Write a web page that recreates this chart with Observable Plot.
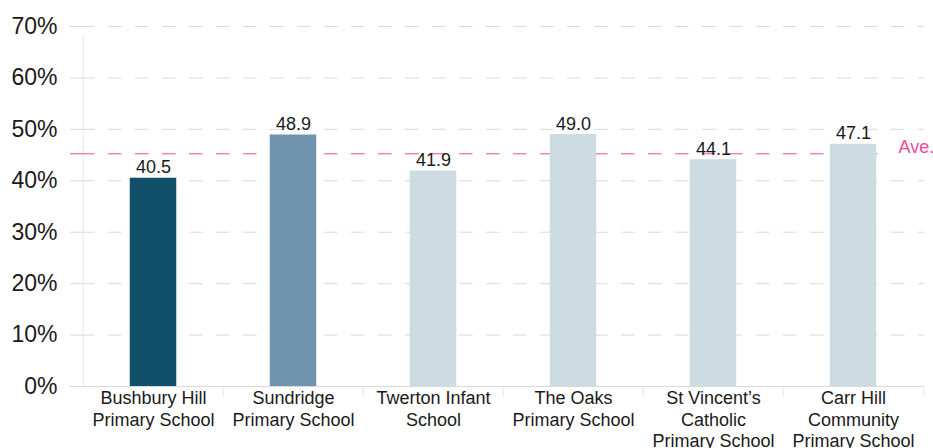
<!DOCTYPE html>
<html><head><meta charset="utf-8">
<script src="https://cdn.jsdelivr.net/npm/d3@7"></script>
<script src="https://cdn.jsdelivr.net/npm/@observablehq/plot@0.6"></script>
<style>html,body{margin:0;padding:0;background:#fff;} svg{display:block;}</style>
</head><body><div id="chart"></div>
<script>
const schools = [
  "Bushbury Hill\nPrimary School",
  "Sundridge\nPrimary School",
  "Twerton Infant\nSchool",
  "The Oaks\nPrimary School",
  "St Vincent’s\nCatholic\nPrimary School",
  "Carr Hill\nCommunity\nPrimary School"
];
const values = [40.5, 48.9, 41.9, 49.0, 44.1, 47.1];
const yTicks = [0, 10, 20, 30, 40, 50, 60, 70];
const averageLabel = "Ave.";

const barColors = ["#124f6b", "#7094ad", "#cddbe3", "#cddbe3", "#cddbe3", "#cddbe3"];
const pink = "#ee4a9b";
const gridColor = "#d9d9d9";

const data = schools.map((s, i) => ({school: s, value: values[i], idx: i}));
const avg = d3.mean(values);

const W = 933, H = 448, mL = 81, mR = 9;
const step = (W - mL - mR) / schools.length;
const barW = 47;

const chart = Plot.plot({
  width: W, height: H,
  marginLeft: mL, marginRight: mR, marginTop: 26, marginBottom: 62,
  style: {fontFamily: "'Liberation Sans', Arial, sans-serif", background: "#fff", color: "#1a1a1a"},
  x: {domain: schools, padding: 0},
  y: {domain: [0, 70]},
  color: {type: "identity"},
  marks: [
    Plot.gridY(yTicks, {stroke: gridColor, strokeOpacity: 1, strokeDasharray: "13.5,13.5"}),
    Plot.axisY(yTicks, {tickSize: 11, tickPadding: 13, stroke: gridColor, strokeOpacity: 1, fill: "#1a1a1a", fontSize: 23, tickFormat: d => d + "%", label: null}),
    Plot.ruleY([0], {stroke: gridColor, insetLeft: -11}),
    Plot.ruleX([schools[0]], {x: d => d, dx: -step / 2, y1: 0, y2: 70, insetBottom: -10, stroke: "#e6e6e6"}),
    Plot.ruleX(schools.slice(1), {x: d => d, dx: -step / 2, y1: 0, y2: 0, insetBottom: -10, stroke: "#e6e6e6"}),
    Plot.ruleX([schools[schools.length - 1]], {x: d => d, dx: step / 2, y1: 0, y2: 0, insetBottom: -10, stroke: "#e6e6e6"}),
    Plot.ruleY([avg], {y: d => d, stroke: pink, strokeDasharray: "13.5,13.5", insetRight: 36}),
    Plot.ruleY([avg], {y: d => d, stroke: pink, insetLeft: -11, insetRight: W - mL - mR}),
    Plot.barY(data, {x: "school", y: "value", fill: d => barColors[d.idx], insetLeft: (step - barW) / 2, insetRight: (step - barW) / 2}),
    Plot.text(data, {x: "school", y: "value", text: d => d.value.toFixed(1), lineAnchor: "bottom", dy: -5, fontSize: 18, fill: "#1a1a1a"}),
    Plot.text([avg], {y: d => d, text: () => averageLabel, frameAnchor: "right", textAnchor: "start", dx: -26, lineAnchor: "bottom", dy: -1, fill: pink, fontSize: 18}),
    Plot.axisX({tickSize: 0, tickPadding: 3, fontSize: 18, lineHeight: 1.17, fill: "#1a1a1a", label: null})
  ]
});
document.getElementById("chart").appendChild(chart);
</script>
</body></html>
